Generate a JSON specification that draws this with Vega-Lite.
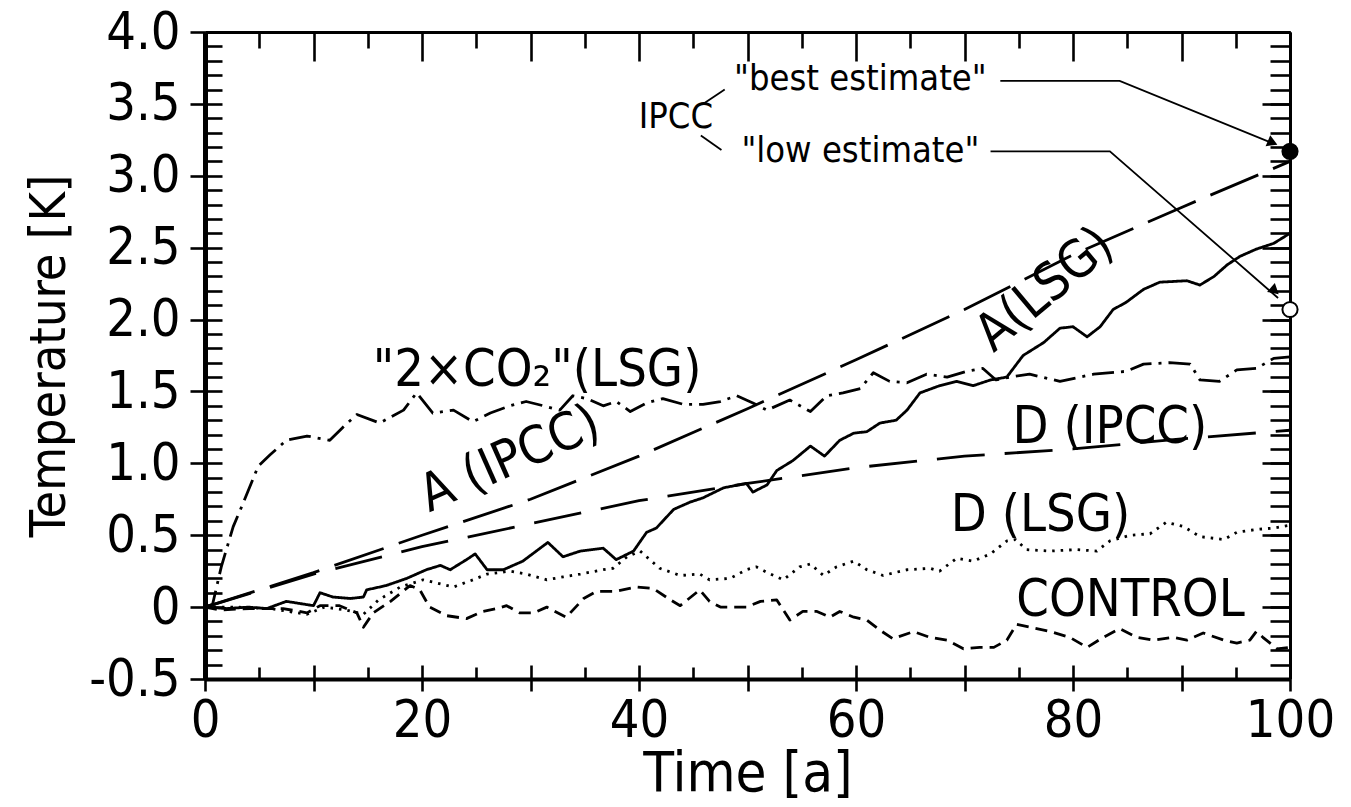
{
"$schema": "https://vega.github.io/schema/vega-lite/v6.json",
"width": 1085, "height": 647,
"autosize": {"type": "none"},
"padding": {"left": 205, "top": 32, "right": 61, "bottom": 128},
"background": "white",
"config": {
  "view": {"stroke": null},
  "font": "DejaVu Sans Condensed, DejaVu Sans, sans-serif",
  "axis": {"grid": false, "labelFont": "DejaVu Sans Condensed, DejaVu Sans, sans-serif", "labelFontSize": 52, "labelColor": "black", "tickColor": "black", "domainColor": "black", "tickWidth": 2.6, "titleFont": "DejaVu Sans Condensed, DejaVu Sans, sans-serif", "titleFontWeight": "normal", "titleColor": "black", "labelFlush": false, "labelOverlap": false, "labelBound": false}
},
"datasets": {
  "series": [
    {"s":"A(IPCC)","t":0,"T":0},{"s":"A(IPCC)","t":10,"T":0.24},{"s":"A(IPCC)","t":20,"T":0.5},{"s":"A(IPCC)","t":30,"T":0.75},{"s":"A(IPCC)","t":40,"T":1.05},{"s":"A(IPCC)","t":50,"T":1.38},{"s":"A(IPCC)","t":60,"T":1.72},{"s":"A(IPCC)","t":70,"T":2.07},{"s":"A(IPCC)","t":80,"T":2.45},{"s":"A(IPCC)","t":90,"T":2.78},{"s":"A(IPCC)","t":100,"T":3.1},
    {"s":"D(IPCC)","t":0,"T":0},{"s":"D(IPCC)","t":10,"T":0.23},{"s":"D(IPCC)","t":20,"T":0.42},{"s":"D(IPCC)","t":30,"T":0.58},{"s":"D(IPCC)","t":40,"T":0.74},{"s":"D(IPCC)","t":50,"T":0.86},{"s":"D(IPCC)","t":60,"T":0.97},{"s":"D(IPCC)","t":70,"T":1.05},{"s":"D(IPCC)","t":80,"T":1.1},{"s":"D(IPCC)","t":90,"T":1.17},{"s":"D(IPCC)","t":100,"T":1.23},
    {"s":"2xCO2","t":0,"T":0},{"s":"2xCO2","t":0.7,"T":0.02},{"s":"2xCO2","t":1.5,"T":0.28},{"s":"2xCO2","t":2.6,"T":0.56},{"s":"2xCO2","t":3.5,"T":0.72},{"s":"2xCO2","t":4.9,"T":0.98},{"s":"2xCO2","t":6,"T":1.06},{"s":"2xCO2","t":7.5,"T":1.16},{"s":"2xCO2","t":9.4,"T":1.19},{"s":"2xCO2","t":11.5,"T":1.16},{"s":"2xCO2","t":12.7,"T":1.25},{"s":"2xCO2","t":14,"T":1.34},{"s":"2xCO2","t":16.1,"T":1.28},{"s":"2xCO2","t":18.3,"T":1.37},{"s":"2xCO2","t":19.5,"T":1.49},{"s":"2xCO2","t":21,"T":1.35},{"s":"2xCO2","t":22.9,"T":1.37},{"s":"2xCO2","t":24.7,"T":1.29},{"s":"2xCO2","t":26.3,"T":1.35},{"s":"2xCO2","t":28.1,"T":1.4},{"s":"2xCO2","t":29.6,"T":1.43},{"s":"2xCO2","t":31.2,"T":1.4},{"s":"2xCO2","t":32.7,"T":1.37},{"s":"2xCO2","t":33.9,"T":1.47},{"s":"2xCO2","t":35.2,"T":1.45},{"s":"2xCO2","t":36.7,"T":1.4},{"s":"2xCO2","t":37.9,"T":1.43},{"s":"2xCO2","t":39.2,"T":1.36},{"s":"2xCO2","t":40.7,"T":1.42},{"s":"2xCO2","t":42.2,"T":1.45},{"s":"2xCO2","t":44.1,"T":1.41},{"s":"2xCO2","t":45.9,"T":1.41},{"s":"2xCO2","t":47.5,"T":1.43},{"s":"2xCO2","t":49,"T":1.47},{"s":"2xCO2","t":50.5,"T":1.42},{"s":"2xCO2","t":51.8,"T":1.37},{"s":"2xCO2","t":53.9,"T":1.44},{"s":"2xCO2","t":55.8,"T":1.36},{"s":"2xCO2","t":57.3,"T":1.47},{"s":"2xCO2","t":58.8,"T":1.49},{"s":"2xCO2","t":60.4,"T":1.52},{"s":"2xCO2","t":61.6,"T":1.63},{"s":"2xCO2","t":63.1,"T":1.57},{"s":"2xCO2","t":64.7,"T":1.56},{"s":"2xCO2","t":66.5,"T":1.62},{"s":"2xCO2","t":68.4,"T":1.6},{"s":"2xCO2","t":70.2,"T":1.64},{"s":"2xCO2","t":71.7,"T":1.66},{"s":"2xCO2","t":72.9,"T":1.58},{"s":"2xCO2","t":74.2,"T":1.6},{"s":"2xCO2","t":76,"T":1.62},{"s":"2xCO2","t":78.8,"T":1.57},{"s":"2xCO2","t":81.9,"T":1.62},{"s":"2xCO2","t":84.9,"T":1.64},{"s":"2xCO2","t":86.5,"T":1.69},{"s":"2xCO2","t":88.9,"T":1.7},{"s":"2xCO2","t":90.8,"T":1.69},{"s":"2xCO2","t":91.7,"T":1.58},{"s":"2xCO2","t":93.5,"T":1.57},{"s":"2xCO2","t":95.1,"T":1.65},{"s":"2xCO2","t":96.9,"T":1.66},{"s":"2xCO2","t":98.5,"T":1.73},{"s":"2xCO2","t":100,"T":1.74},
    {"s":"A(LSG)","t":0,"T":0},{"s":"A(LSG)","t":2,"T":-0.01},{"s":"A(LSG)","t":4,"T":0.0},{"s":"A(LSG)","t":5.7,"T":-0.01},{"s":"A(LSG)","t":7.5,"T":0.04},{"s":"A(LSG)","t":10,"T":0.01},{"s":"A(LSG)","t":10.6,"T":0.1},{"s":"A(LSG)","t":11.8,"T":0.07},{"s":"A(LSG)","t":13.4,"T":0.06},{"s":"A(LSG)","t":14.6,"T":0.07},{"s":"A(LSG)","t":14.9,"T":0.12},{"s":"A(LSG)","t":16.7,"T":0.15},{"s":"A(LSG)","t":18.6,"T":0.2},{"s":"A(LSG)","t":20.4,"T":0.26},{"s":"A(LSG)","t":21.7,"T":0.29},{"s":"A(LSG)","t":22.6,"T":0.26},{"s":"A(LSG)","t":24.1,"T":0.33},{"s":"A(LSG)","t":24.9,"T":0.37},{"s":"A(LSG)","t":26,"T":0.26},{"s":"A(LSG)","t":27.5,"T":0.26},{"s":"A(LSG)","t":29.3,"T":0.32},{"s":"A(LSG)","t":31.6,"T":0.45},{"s":"A(LSG)","t":33,"T":0.35},{"s":"A(LSG)","t":34.6,"T":0.39},{"s":"A(LSG)","t":36.7,"T":0.41},{"s":"A(LSG)","t":37.9,"T":0.33},{"s":"A(LSG)","t":39.5,"T":0.39},{"s":"A(LSG)","t":40.7,"T":0.52},{"s":"A(LSG)","t":41.6,"T":0.55},{"s":"A(LSG)","t":43.2,"T":0.68},{"s":"A(LSG)","t":44.7,"T":0.73},{"s":"A(LSG)","t":45.9,"T":0.76},{"s":"A(LSG)","t":47.8,"T":0.83},{"s":"A(LSG)","t":49.9,"T":0.86},{"s":"A(LSG)","t":50.5,"T":0.8},{"s":"A(LSG)","t":51.8,"T":0.85},{"s":"A(LSG)","t":52.7,"T":0.95},{"s":"A(LSG)","t":54.2,"T":1.02},{"s":"A(LSG)","t":55.8,"T":1.12},{"s":"A(LSG)","t":57.1,"T":1.05},{"s":"A(LSG)","t":58.5,"T":1.16},{"s":"A(LSG)","t":59.8,"T":1.21},{"s":"A(LSG)","t":61,"T":1.22},{"s":"A(LSG)","t":62.2,"T":1.28},{"s":"A(LSG)","t":63.7,"T":1.3},{"s":"A(LSG)","t":64.7,"T":1.37},{"s":"A(LSG)","t":65.9,"T":1.49},{"s":"A(LSG)","t":67.7,"T":1.54},{"s":"A(LSG)","t":69.3,"T":1.57},{"s":"A(LSG)","t":70.8,"T":1.54},{"s":"A(LSG)","t":72.4,"T":1.58},{"s":"A(LSG)","t":73.9,"T":1.6},{"s":"A(LSG)","t":75.4,"T":1.75},{"s":"A(LSG)","t":77.3,"T":1.84},{"s":"A(LSG)","t":78.8,"T":1.94},{"s":"A(LSG)","t":80,"T":1.95},{"s":"A(LSG)","t":81.3,"T":1.88},{"s":"A(LSG)","t":82.5,"T":1.95},{"s":"A(LSG)","t":83.7,"T":2.07},{"s":"A(LSG)","t":84.9,"T":2.12},{"s":"A(LSG)","t":86.5,"T":2.21},{"s":"A(LSG)","t":88,"T":2.26},{"s":"A(LSG)","t":90.5,"T":2.27},{"s":"A(LSG)","t":91.7,"T":2.24},{"s":"A(LSG)","t":93,"T":2.3},{"s":"A(LSG)","t":94.2,"T":2.38},{"s":"A(LSG)","t":95.4,"T":2.44},{"s":"A(LSG)","t":96.9,"T":2.49},{"s":"A(LSG)","t":98.5,"T":2.53},{"s":"A(LSG)","t":100,"T":2.6},
    {"s":"D(LSG)","t":0,"T":0},{"s":"D(LSG)","t":3,"T":0.0},{"s":"D(LSG)","t":6,"T":-0.01},{"s":"D(LSG)","t":9.4,"T":-0.05},{"s":"D(LSG)","t":11,"T":0.0},{"s":"D(LSG)","t":13,"T":-0.02},{"s":"D(LSG)","t":14.6,"T":-0.05},{"s":"D(LSG)","t":16,"T":0.05},{"s":"D(LSG)","t":18,"T":0.14},{"s":"D(LSG)","t":20.1,"T":0.19},{"s":"D(LSG)","t":22.9,"T":0.14},{"s":"D(LSG)","t":24.7,"T":0.19},{"s":"D(LSG)","t":26,"T":0.23},{"s":"D(LSG)","t":28.1,"T":0.25},{"s":"D(LSG)","t":29.6,"T":0.23},{"s":"D(LSG)","t":31.5,"T":0.19},{"s":"D(LSG)","t":33,"T":0.21},{"s":"D(LSG)","t":34.6,"T":0.23},{"s":"D(LSG)","t":36.7,"T":0.26},{"s":"D(LSG)","t":37.6,"T":0.27},{"s":"D(LSG)","t":38.9,"T":0.35},{"s":"D(LSG)","t":40.1,"T":0.39},{"s":"D(LSG)","t":41,"T":0.33},{"s":"D(LSG)","t":41.9,"T":0.27},{"s":"D(LSG)","t":43.8,"T":0.22},{"s":"D(LSG)","t":45.6,"T":0.23},{"s":"D(LSG)","t":46.5,"T":0.19},{"s":"D(LSG)","t":48.4,"T":0.2},{"s":"D(LSG)","t":49.9,"T":0.26},{"s":"D(LSG)","t":50.8,"T":0.28},{"s":"D(LSG)","t":52.1,"T":0.23},{"s":"D(LSG)","t":53.3,"T":0.19},{"s":"D(LSG)","t":54.8,"T":0.28},{"s":"D(LSG)","t":55.8,"T":0.3},{"s":"D(LSG)","t":57,"T":0.22},{"s":"D(LSG)","t":58.2,"T":0.28},{"s":"D(LSG)","t":59.8,"T":0.32},{"s":"D(LSG)","t":61,"T":0.26},{"s":"D(LSG)","t":62.5,"T":0.22},{"s":"D(LSG)","t":64.7,"T":0.26},{"s":"D(LSG)","t":66.8,"T":0.27},{"s":"D(LSG)","t":67.7,"T":0.25},{"s":"D(LSG)","t":69.3,"T":0.34},{"s":"D(LSG)","t":70.8,"T":0.32},{"s":"D(LSG)","t":72.4,"T":0.37},{"s":"D(LSG)","t":73.9,"T":0.46},{"s":"D(LSG)","t":74.7,"T":0.47},{"s":"D(LSG)","t":75.7,"T":0.4},{"s":"D(LSG)","t":77.9,"T":0.39},{"s":"D(LSG)","t":80.3,"T":0.4},{"s":"D(LSG)","t":82.2,"T":0.39},{"s":"D(LSG)","t":83.4,"T":0.46},{"s":"D(LSG)","t":85.3,"T":0.5},{"s":"D(LSG)","t":87.1,"T":0.51},{"s":"D(LSG)","t":88.6,"T":0.59},{"s":"D(LSG)","t":90.2,"T":0.56},{"s":"D(LSG)","t":91.7,"T":0.49},{"s":"D(LSG)","t":93.9,"T":0.47},{"s":"D(LSG)","t":95.1,"T":0.52},{"s":"D(LSG)","t":96.9,"T":0.54},{"s":"D(LSG)","t":98.5,"T":0.55},{"s":"D(LSG)","t":100,"T":0.57},
    {"s":"CONTROL","t":0,"T":0},{"s":"CONTROL","t":1.4,"T":-0.02},{"s":"CONTROL","t":4.1,"T":-0.01},{"s":"CONTROL","t":7.2,"T":-0.01},{"s":"CONTROL","t":9.4,"T":-0.04},{"s":"CONTROL","t":10.6,"T":0.01},{"s":"CONTROL","t":12.4,"T":0.01},{"s":"CONTROL","t":14,"T":-0.04},{"s":"CONTROL","t":14.6,"T":-0.14},{"s":"CONTROL","t":15.5,"T":-0.04},{"s":"CONTROL","t":17.1,"T":0.04},{"s":"CONTROL","t":18.9,"T":0.15},{"s":"CONTROL","t":19.8,"T":0.12},{"s":"CONTROL","t":20.7,"T":0.0},{"s":"CONTROL","t":22.3,"T":-0.06},{"s":"CONTROL","t":24.1,"T":-0.08},{"s":"CONTROL","t":25.6,"T":-0.03},{"s":"CONTROL","t":26.9,"T":-0.01},{"s":"CONTROL","t":27.8,"T":0.01},{"s":"CONTROL","t":29,"T":-0.04},{"s":"CONTROL","t":30.3,"T":-0.04},{"s":"CONTROL","t":31.5,"T":0.0},{"s":"CONTROL","t":33.3,"T":-0.07},{"s":"CONTROL","t":34.9,"T":0.06},{"s":"CONTROL","t":36.1,"T":0.11},{"s":"CONTROL","t":37.9,"T":0.11},{"s":"CONTROL","t":39.8,"T":0.14},{"s":"CONTROL","t":41.3,"T":0.13},{"s":"CONTROL","t":42.9,"T":0.05},{"s":"CONTROL","t":43.8,"T":0.01},{"s":"CONTROL","t":45.6,"T":0.12},{"s":"CONTROL","t":46.5,"T":0.04},{"s":"CONTROL","t":47.5,"T":0.0},{"s":"CONTROL","t":49.9,"T":0.0},{"s":"CONTROL","t":51.2,"T":0.04},{"s":"CONTROL","t":52.7,"T":0.05},{"s":"CONTROL","t":53.9,"T":-0.09},{"s":"CONTROL","t":55.1,"T":-0.03},{"s":"CONTROL","t":56.4,"T":-0.03},{"s":"CONTROL","t":57.6,"T":-0.07},{"s":"CONTROL","t":58.5,"T":-0.03},{"s":"CONTROL","t":59.8,"T":-0.07},{"s":"CONTROL","t":61,"T":-0.09},{"s":"CONTROL","t":62.2,"T":-0.16},{"s":"CONTROL","t":63.4,"T":-0.22},{"s":"CONTROL","t":65.3,"T":-0.17},{"s":"CONTROL","t":66.8,"T":-0.21},{"s":"CONTROL","t":68.4,"T":-0.23},{"s":"CONTROL","t":69.9,"T":-0.29},{"s":"CONTROL","t":71.4,"T":-0.28},{"s":"CONTROL","t":72.7,"T":-0.28},{"s":"CONTROL","t":73.9,"T":-0.23},{"s":"CONTROL","t":74.8,"T":-0.12},{"s":"CONTROL","t":77.9,"T":-0.17},{"s":"CONTROL","t":79.7,"T":-0.21},{"s":"CONTROL","t":81.3,"T":-0.28},{"s":"CONTROL","t":82.8,"T":-0.21},{"s":"CONTROL","t":84.3,"T":-0.15},{"s":"CONTROL","t":85.9,"T":-0.21},{"s":"CONTROL","t":87.4,"T":-0.23},{"s":"CONTROL","t":89.2,"T":-0.21},{"s":"CONTROL","t":90.5,"T":-0.23},{"s":"CONTROL","t":92,"T":-0.18},{"s":"CONTROL","t":93.9,"T":-0.23},{"s":"CONTROL","t":95.1,"T":-0.25},{"s":"CONTROL","t":96.3,"T":-0.23},{"s":"CONTROL","t":96.9,"T":-0.17},{"s":"CONTROL","t":97.5,"T":-0.21},{"s":"CONTROL","t":98.8,"T":-0.29},{"s":"CONTROL","t":100,"T":-0.28}
  ],
  "leaders": [
    {"g":"best","t":73.3,"T":3.66},{"g":"best","t":84.3,"T":3.66},{"g":"best","t":98.6,"T":3.22},
    {"g":"low","t":72.4,"T":3.17},{"g":"low","t":83.4,"T":3.17},{"g":"low","t":98.9,"T":2.15},
    {"g":"br1","t":45.9,"T":3.5},{"g":"br1","t":47.9,"T":3.6},
    {"g":"br2","t":45.7,"T":3.28},{"g":"br2","t":47.6,"T":3.18}
  ],
  "markers": [
    {"k":"best","t":100,"T":3.17},{"k":"low","t":100,"T":2.07}
  ],
  "arrows": [
    {"a":"best","t":98.4,"T":3.23},{"a":"low","t":98.6,"T":2.2}
  ],
  "labels": [
    {"label":"\"2×CO₂\"(LSG)","t":30.6,"T":1.65},
    {"label":"D (IPCC)","t":83.4,"T":1.25},
    {"label":"D (LSG)","t":77,"T":0.64},
    {"label":"CONTROL","t":85.3,"T":0.05}
  ],
  "notes": [
    {"label":"IPCC","t":43.4,"T":3.41},
    {"label":"\"best estimate\"","t":60.4,"T":3.67},
    {"label":"\"low estimate\"","t":60.4,"T":3.17}
  ],
  "rot1": [{"label":"A (IPCC)","t":28.1,"T":1.03}],
  "rot2": [{"label":"A(LSG)","t":77.4,"T":2.21}]
},
"resolve": {"axis": {"x": "independent", "y": "independent"}},
"layer": [
  {
    "data": {"name": "series"},
    "mark": {"type": "line", "color": "black", "strokeWidth": 2.8, "strokeCap": "butt", "strokeJoin": "round"},
    "encoding": {
      "x": {"field": "t", "type": "quantitative", "scale": {"domain": [0, 100], "nice": false, "zero": false},
        "axis": {"orient": "bottom", "values": [0,10,20,30,40,50,60,70,80,90,100], "format": "d", "labelExpr": "datum.value % 20 == 0 ? datum.label : ''", "tickSize": 12, "domainWidth": 4, "labelPadding": 4, "title": "Time [a]", "titleFontSize": 56, "titlePadding": 0}},
      "y": {"field": "T", "type": "quantitative", "scale": {"domain": [-0.5, 4], "nice": false, "zero": false},
        "axis": {"orient": "left", "values": [-0.5,0,0.5,1,1.5,2,2.5,3,3.5,4], "labelExpr": "datum.value == 0 ? '0' : replace(format(datum.value, '.1f'), '−', '-')", "tickSize": 15, "domainWidth": 5, "labelPadding": 10, "title": "Temperature [K]", "titleFontSize": 50, "titlePadding": 14}},
      "strokeDash": {"field": "s", "type": "nominal", "legend": null,
        "scale": {"domain": ["A(IPCC)","D(IPCC)","2xCO2","A(LSG)","D(LSG)","CONTROL"], "range": [[52,16],[48,20],[22,7,3,7],[1,0],[2.5,6],[12,7]]}}
    }
  },
  {
    "data": {"name": "leaders"},
    "mark": {"type": "line", "color": "black", "strokeWidth": 1.8},
    "encoding": {
      "x": {"field": "t", "type": "quantitative", "scale": {"domain": [0, 100], "nice": false, "zero": false},
        "axis": {"orient": "bottom", "values": [0,10,20,30,40,50,60,70,80,90,100], "tickSize": -14, "labels": false, "domain": false, "title": null}},
      "y": {"field": "T", "type": "quantitative", "scale": {"domain": [-0.5, 4], "nice": false, "zero": false},
        "axis": {"orient": "left", "values": [-0.5,-0.4,-0.3,-0.2,-0.1,0,0.1,0.2,0.3,0.4,0.5,0.6,0.7,0.8,0.9,1,1.1,1.2,1.3,1.4,1.5,1.6,1.7,1.8,1.9,2,2.1,2.2,2.3,2.4,2.5,2.6,2.7,2.8,2.9,3,3.1,3.2,3.3,3.4,3.5,3.6,3.7,3.8,3.9,4], "tickSize": -17, "labels": false, "domain": false, "title": null}},
      "detail": {"field": "g"}
    }
  },
  {
    "data": {"name": "markers"},
    "mark": {"type": "point", "shape": "circle", "filled": true, "stroke": "black", "strokeWidth": 2, "size": 230, "opacity": 1},
    "encoding": {
      "x": {"field": "t", "type": "quantitative", "scale": {"domain": [0, 100], "nice": false, "zero": false},
        "axis": {"orient": "bottom", "values": [5,15,25,35,45,55,65,75,85,95], "tickSize": -12, "labels": false, "domain": false, "title": null}},
      "y": {"field": "T", "type": "quantitative", "scale": {"domain": [-0.5, 4], "nice": false, "zero": false},
        "axis": {"orient": "right", "values": [-0.5,-0.4,-0.3,-0.2,-0.1,0,0.1,0.2,0.3,0.4,0.5,0.6,0.7,0.8,0.9,1,1.1,1.2,1.3,1.4,1.5,1.6,1.7,1.8,1.9,2,2.1,2.2,2.3,2.4,2.5,2.6,2.7,2.8,2.9,3,3.1,3.2,3.3,3.4,3.5,3.6,3.7,3.8,3.9,4], "tickSize": -20, "labels": false, "domainWidth": 3, "title": null}},
      "fill": {"field": "k", "type": "nominal", "legend": null, "scale": {"domain": ["best","low"], "range": ["black","white"]}}
    }
  },
  {
    "data": {"name": "arrows"},
    "transform": [{"filter": "datum.a == 'best'"}],
    "mark": {"type": "point", "shape": "triangle-right", "filled": true, "color": "black", "size": 140, "angle": 23, "opacity": 1},
    "encoding": {
      "x": {"field": "t", "type": "quantitative", "scale": {"domain": [0, 100], "nice": false, "zero": false},
        "axis": {"orient": "top", "values": [0,10,20,30,40,50,60,70,80,90,100], "tickSize": -29, "labels": false, "domainWidth": 3, "title": null}},
      "y": {"field": "T", "type": "quantitative", "scale": {"domain": [-0.5, 4], "nice": false, "zero": false},
        "axis": {"orient": "right", "values": [-0.5,0,0.5,1,1.5,2,2.5,3,3.5,4], "tickSize": -28, "labels": false, "domain": false, "title": null}}
    }
  },
  {
    "data": {"name": "arrows"},
    "transform": [{"filter": "datum.a == 'low'"}],
    "mark": {"type": "point", "shape": "triangle-right", "filled": true, "color": "black", "size": 140, "angle": 41, "opacity": 1},
    "encoding": {
      "x": {"field": "t", "type": "quantitative", "scale": {"domain": [0, 100], "nice": false, "zero": false},
        "axis": {"orient": "top", "values": [5,15,25,35,45,55,65,75,85,95], "tickSize": -16, "labels": false, "domain": false, "title": null}},
      "y": {"field": "T", "type": "quantitative", "scale": {"domain": [-0.5, 4], "nice": false, "zero": false}, "axis": null}
    }
  },
  {
    "data": {"name": "labels"},
    "mark": {"type": "text", "font": "DejaVu Sans Condensed, DejaVu Sans, sans-serif", "fontSize": 52, "color": "black", "align": "center", "baseline": "middle"},
    "encoding": {
      "x": {"field": "t", "type": "quantitative", "scale": {"domain": [0, 100], "nice": false, "zero": false}, "axis": null},
      "y": {"field": "T", "type": "quantitative", "scale": {"domain": [-0.5, 4], "nice": false, "zero": false}, "axis": null},
      "text": {"field": "label"}
    }
  },
  {
    "data": {"name": "notes"},
    "mark": {"type": "text", "font": "DejaVu Sans Condensed, DejaVu Sans, sans-serif", "fontSize": 36, "color": "black", "align": "center", "baseline": "middle"},
    "encoding": {
      "x": {"field": "t", "type": "quantitative", "scale": {"domain": [0, 100], "nice": false, "zero": false}, "axis": null},
      "y": {"field": "T", "type": "quantitative", "scale": {"domain": [-0.5, 4], "nice": false, "zero": false}, "axis": null},
      "text": {"field": "label"}
    }
  },
  {
    "data": {"name": "rot1"},
    "mark": {"type": "text", "font": "DejaVu Sans Condensed, DejaVu Sans, sans-serif", "fontSize": 52, "color": "black", "align": "center", "baseline": "middle", "angle": -24},
    "encoding": {
      "x": {"field": "t", "type": "quantitative", "scale": {"domain": [0, 100], "nice": false, "zero": false}, "axis": null},
      "y": {"field": "T", "type": "quantitative", "scale": {"domain": [-0.5, 4], "nice": false, "zero": false}, "axis": null},
      "text": {"field": "label"}
    }
  },
  {
    "data": {"name": "rot2"},
    "mark": {"type": "text", "font": "DejaVu Sans Condensed, DejaVu Sans, sans-serif", "fontSize": 52, "color": "black", "align": "center", "baseline": "middle", "angle": -40},
    "encoding": {
      "x": {"field": "t", "type": "quantitative", "scale": {"domain": [0, 100], "nice": false, "zero": false}, "axis": null},
      "y": {"field": "T", "type": "quantitative", "scale": {"domain": [-0.5, 4], "nice": false, "zero": false}, "axis": null},
      "text": {"field": "label"}
    }
  }
]
}
